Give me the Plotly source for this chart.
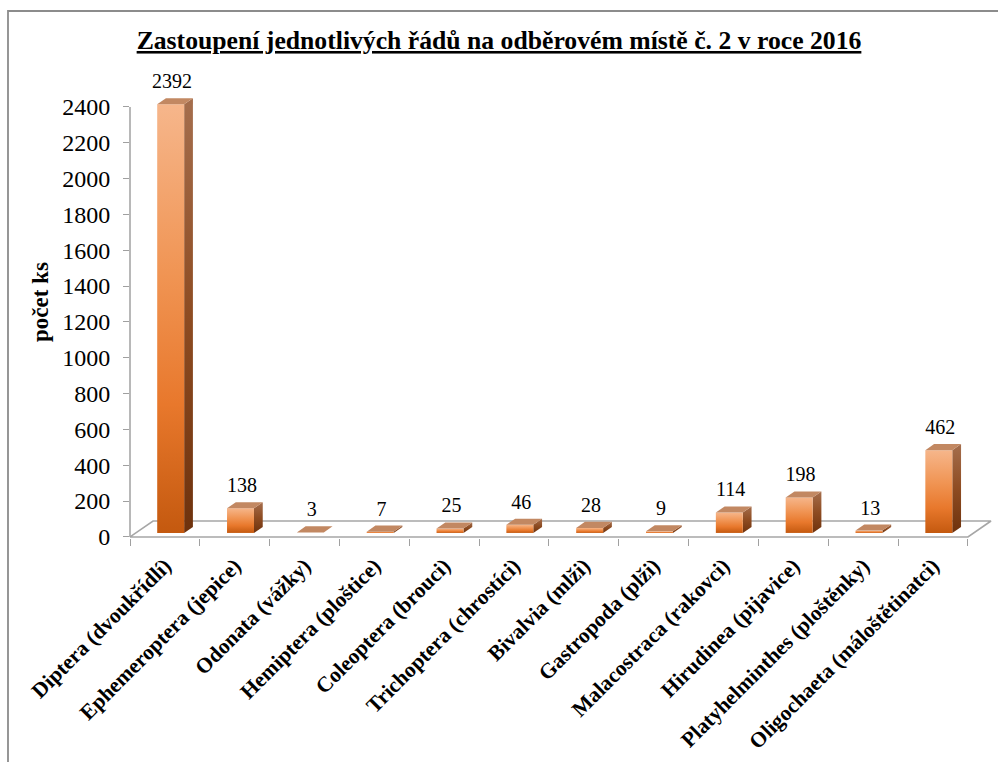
import plotly.graph_objects as go

# Macroinvertebrate orders counted at sampling site no. 2 (2016)
categories = [
    "Diptera (dvoukřídlí)",
    "Ephemeroptera (jepice)",
    "Odonata (vážky)",
    "Hemiptera (ploštice)",
    "Coleoptera (brouci)",
    "Trichoptera (chrostíci)",
    "Bivalvia (mlži)",
    "Gastropoda (plži)",
    "Malacostraca (rakovci)",
    "Hirudinea (pijavice)",
    "Platyhelminthes (ploštěnky)",
    "Oligochaeta (máloštětinatci)",
]
counts = [2392, 138, 3, 7, 25, 46, 28, 9, 114, 198, 13, 462]
y_ticks = list(range(0, 2401, 200))

title_text = "Zastoupení jednotlivých řádů na odběrovém místě č. 2 v roce 2016"
y_title = "počet ks"

SERIF = "'Liberation Serif', 'Times New Roman', serif"

# pseudo-3D geometry (data units): floor depth and bar placement inside it
FLOOR_DX, FLOOR_DY = 0.33, 89.0
BAR_FRONT, BAR_BACK = 0.25, 0.63
BAR_HALF = 0.193

FRONT_SCALE = [[0.0, "#C4590F"], [0.3, "#E8782C"], [0.6, "#F09453"], [1.0, "#F6B68B"]]
SIDE_SCALE = [[0.0, "#6E320D"], [0.5, "#8E4C22"], [1.0, "#A56E4D"]]
TOP_COLOR = "#C28862"

fig = go.Figure()

n = len(categories)
x_lo, x_hi = -0.5, n - 0.5

# floor of the 3D plot area
fig.add_trace(go.Scatter(
    x=[x_lo, x_hi, x_hi + FLOOR_DX, x_lo + FLOOR_DX, x_lo],
    y=[0, 0, FLOOR_DY, FLOOR_DY, 0],
    mode="lines", fill="toself", fillcolor="white",
    line=dict(color="#A6A6A6", width=1.6),
    hoverinfo="skip", showlegend=False,
))

fdx, fdy = BAR_FRONT * FLOOR_DX, BAR_FRONT * FLOOR_DY
bdx, bdy = BAR_BACK * FLOOR_DX, BAR_BACK * FLOOR_DY

for i, v in enumerate(counts):
    xl = i + fdx - BAR_HALF
    xr = i + fdx + BAR_HALF
    base = fdy
    top = fdy + v
    ddx, ddy = bdx - fdx, bdy - fdy
    # right side face
    fig.add_trace(go.Scatter(
        x=[xr, xr + ddx, xr + ddx, xr, xr],
        y=[base, base + ddy, top + ddy, top, base],
        mode="lines", fill="toself", line=dict(width=0),
        fillgradient=dict(type="vertical", colorscale=SIDE_SCALE),
        hoverinfo="skip", showlegend=False,
    ))
    # front face
    fig.add_trace(go.Scatter(
        x=[xl, xr, xr, xl, xl],
        y=[base, base, top, top, base],
        mode="lines", fill="toself", line=dict(width=0),
        fillgradient=dict(type="vertical", colorscale=FRONT_SCALE),
        hoverinfo="skip", showlegend=False,
    ))
    # top face
    fig.add_trace(go.Scatter(
        x=[xl, xr, xr + ddx, xl + ddx, xl],
        y=[top, top, top + ddy, top + ddy, top],
        mode="lines", fill="toself", line=dict(width=0),
        fillcolor=TOP_COLOR,
        hoverinfo="skip", showlegend=False,
    ))

# value labels above each bar
fig.add_trace(go.Scatter(
    x=[i + fdx + 0.02 for i in range(n)],
    y=[v + bdy + 84 for v in counts],
    mode="text", text=[str(v) for v in counts],
    textposition="middle center",
    textfont=dict(family=SERIF, size=20, color="black"),
    cliponaxis=False, hoverinfo="skip", showlegend=False,
))

fig.update_layout(
    width=998, height=762,
    margin=dict(l=130, r=2, t=78, b=224),
    paper_bgcolor="white", plot_bgcolor="white",
    showlegend=False,
    title=dict(
        text="<b><u>" + title_text + "</u></b>",
        x=0.5, xref="container", xanchor="center",
        y=1 - 40 / 762, yanchor="middle",
        font=dict(family=SERIF, size=25.7, color="black"),
    ),
    xaxis=dict(
        range=[x_lo, x_lo + 866 / 69.83],
        tickmode="array",
        tickvals=list(range(n)),
        ticktext=["<b>" + c + "</b>" for c in categories],
        tickangle=-45,
        ticks="",
        ticklabelstandoff=10,
        tickfont=dict(family=SERIF, size=21.5, color="black"),
        showgrid=False, zeroline=False, showline=False,
        minor=dict(tickmode="linear", tick0=-0.5, dtick=1, ticks="outside",
                   ticklen=7, tickwidth=1.3, tickcolor="#A0A0A0", showgrid=False),
        fixedrange=True,
    ),
    yaxis=dict(
        range=[-6, -6 + 460 / (430 / 2400)],
        tickmode="array",
        tickvals=y_ticks,
        ticks="outside", ticklen=6, tickwidth=1.3, tickcolor="#A0A0A0",
        ticklabelstandoff=8,
        tickfont=dict(family=SERIF, size=24, color="black"),
        showgrid=False, zeroline=False, showline=False,
        fixedrange=True,
    ),
    shapes=[
        # vertical value axis line
        dict(type="line", xref="paper", yref="y", x0=0, x1=0,
             y0=y_ticks[0], y1=y_ticks[-1],
             line=dict(color="#A0A0A0", width=1.5)),
        # chart border
        dict(type="rect", xref="paper", yref="paper",
             x0=(8 - 130) / 866, x1=(1100 - 130) / 866,
             y0=-(850 - 538) / 460, y1=(538 - 11) / 460,
             line=dict(color="#8C8C8C", width=1.8), fillcolor="rgba(0,0,0,0)",
             layer="below"),
    ],
    annotations=[
        dict(text="<b>" + y_title + "</b>", textangle=-90,
             xref="paper", yref="paper",
             x=(40 - 130) / 866, y=(538 - 302) / 460,
             xanchor="center", yanchor="middle", showarrow=False,
             font=dict(family=SERIF, size=23, color="black")),
    ],
)

fig.write_html("out.html")
